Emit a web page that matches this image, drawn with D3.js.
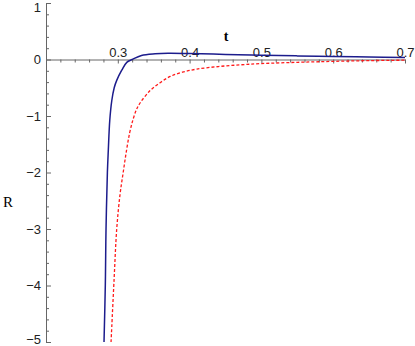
<!DOCTYPE html>
<html><head><meta charset="utf-8">
<script src="https://cdn.jsdelivr.net/npm/d3@7/dist/d3.min.js"></script>
<style>body{margin:0;background:#fff}svg{display:block}</style>
</head><body>
<svg id="c" width="415" height="346"></svg>
<script>
const blueT = [0.2808,0.2826,0.2836,0.2855,0.2868,0.2888,0.2916,0.2950,0.2985,0.3055,0.3125,0.3200,0.3330,0.3520,0.3700,0.4000,0.4500,0.5000,0.5500,0.6000,0.6500,0.7000];
const blueR = [-5.0,-4.0,-3.0,-2.0,-1.6,-1.08,-0.73,-0.50,-0.37,-0.19,-0.05,0.0,0.07,0.10,0.11,0.105,0.09,0.076,0.064,0.053,0.043,0.035];
const redT = [0.2906,0.2948,0.2985,0.3030,0.3075,0.3120,0.3165,0.3215,0.3262,0.3310,0.3450,0.3590,0.3730,0.3900,0.4100,0.4400,0.4700,0.5000,0.5500,0.6000,0.6500,0.7000];
const redR = [-5.0,-3.9,-3.0,-2.4,-2.0,-1.62,-1.3,-1.05,-0.88,-0.77,-0.55,-0.41,-0.30,-0.225,-0.17,-0.125,-0.095,-0.072,-0.05,-0.033,-0.02,-0.012];
const xMajor = [0.3,0.4,0.5,0.6,0.7];
const yMajor = [1,0,-1,-2,-3,-4,-5];

const svg = d3.select("#c");
const x = d3.scaleLinear().domain([0.2,0.7]).range([46,405]);
const y = d3.scaleLinear().domain([-5,1]).range([342,3]);

const axisColor = "#666";
const font = "'Liberation Sans', Arial, sans-serif";

// x axis minor ticks
const xMinor = d3.range(0.22,0.7001,0.02).filter(v=>Math.abs(v*10-Math.round(v*10))>1e-6);
svg.append("g").attr("transform",`translate(0,${y(0)})`)
  .call(d3.axisTop(x).tickValues(xMinor).tickFormat("").tickSizeInner(-3).tickSizeOuter(0))
  .call(g=>{g.select(".domain").remove();g.selectAll("line").attr("stroke",axisColor);});
const xa = svg.append("g").attr("transform",`translate(0,${y(0)})`)
  .call(d3.axisTop(x).tickValues(xMajor).tickFormat(d3.format(".1f")).tickSizeInner(-4).tickSizeOuter(0).tickPadding(3));
xa.select(".domain").attr("stroke",axisColor);
xa.selectAll("line").attr("stroke",axisColor);
xa.selectAll("text").attr("font-family",font).attr("font-size",13).attr("fill","#222");

// y axis
const yMinor = d3.range(-4.8,1.0,0.2).filter(v=>Math.abs(v-Math.round(v))>1e-6);
svg.append("g").attr("transform",`translate(${x(0.2)},0)`)
  .call(d3.axisLeft(y).tickValues(yMinor).tickFormat("").tickSizeInner(-3).tickSizeOuter(0))
  .call(g=>{g.select(".domain").remove();g.selectAll("line").attr("stroke",axisColor);});
const ya = svg.append("g").attr("transform",`translate(${x(0.2)},0)`)
  .call(d3.axisLeft(y).tickValues(yMajor).tickFormat(d3.format("d")).tickSizeInner(-5).tickSizeOuter(0).tickPadding(5));
ya.select(".domain").attr("stroke",axisColor);
ya.selectAll("line").attr("stroke",axisColor);
ya.selectAll("text").attr("font-family",font).attr("font-size",13).attr("fill","#222")
  .attr("dy",d=>d===1?"0.62em":(d===-5?"0.12em":"0.32em"));

// axis titles
svg.append("text").attr("x",226).attr("y",41).attr("text-anchor","middle")
  .attr("font-family","'Liberation Serif', 'DejaVu Serif', serif").attr("font-weight","bold").attr("font-size",14).text("t");
svg.append("text").attr("x",8).attr("y",207).attr("text-anchor","middle")
  .attr("font-family","'Liberation Serif', 'DejaVu Serif', serif").attr("font-size",15).text("R");

const line = d3.line().x(d=>x(d[0])).y(d=>y(d[1])).curve(d3.curveCatmullRom.alpha(0.5));
svg.append("path").datum(redT.map((t,i)=>[t,redR[i]]))
  .attr("d",line).attr("fill","none").attr("stroke","#ff1a1a").attr("stroke-width",1.3).attr("stroke-dasharray","3,2");
svg.append("path").datum(blueT.map((t,i)=>[t,blueR[i]]))
  .attr("d",line).attr("fill","none").attr("stroke","#1c1c8c").attr("stroke-width",1.5);
</script>
</body></html>
